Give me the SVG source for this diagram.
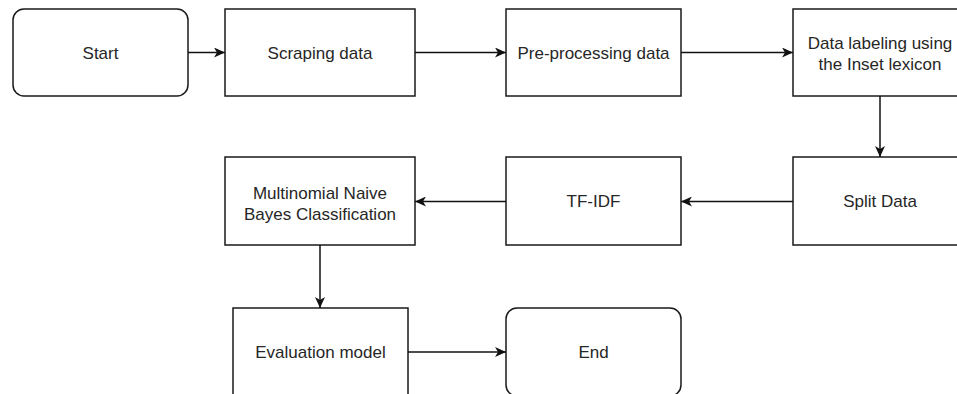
<svg xmlns="http://www.w3.org/2000/svg" width="957" height="394" viewBox="0 0 957 394">
  <defs>
    <marker id="arrow" markerUnits="userSpaceOnUse" markerWidth="12" markerHeight="10" refX="11" refY="5" orient="auto">
      <path d="M0,0 L11,5 L0,10 L3,5 Z" fill="#111"/>
    </marker>
    <style>
      .box { fill: #fff; stroke: #1a1a1a; stroke-width: 1.5; }
      .lbl { font-family: "Liberation Sans", Arial, sans-serif; font-size: 17px; fill: #262626; text-anchor: middle; }
      .edge { fill: none; stroke: #111; stroke-width: 1.5; marker-end: url(#arrow); }
    </style>
  </defs>
  <rect x="0" y="0" width="957" height="394" fill="#fff"/>

  <g id="start">
    <rect class="box" x="13" y="9" width="175" height="87" rx="11" ry="11"/>
    <text class="lbl" x="100.5" y="58.5">Start</text>
  </g>
  <g id="scraping">
    <rect class="box" x="225" y="9" width="190" height="87"/>
    <text class="lbl" x="320" y="58.5">Scraping data</text>
  </g>
  <g id="preprocessing">
    <rect class="box" x="506" y="9" width="175" height="87"/>
    <text class="lbl" x="593.5" y="58.5">Pre-processing data</text>
  </g>
  <g id="labeling">
    <rect class="box" x="793" y="9" width="175" height="87"/>
    <text class="lbl" x="880" y="49">Data labeling using</text>
    <text class="lbl" x="880" y="70">the Inset lexicon</text>
  </g>
  <g id="split">
    <rect class="box" x="793" y="157" width="175" height="88"/>
    <text class="lbl" x="880" y="207">Split Data</text>
  </g>
  <g id="tfidf">
    <rect class="box" x="506" y="157" width="175" height="88"/>
    <text class="lbl" x="593.5" y="207">TF-IDF</text>
  </g>
  <g id="mnb">
    <rect class="box" x="225" y="157" width="190" height="88"/>
    <text class="lbl" x="320" y="199">Multinomial Naive</text>
    <text class="lbl" x="320" y="220">Bayes Classification</text>
  </g>
  <g id="evaluation">
    <rect class="box" x="233" y="308" width="175" height="88"/>
    <text class="lbl" x="320.5" y="358">Evaluation model</text>
  </g>
  <g id="end">
    <rect class="box" x="506" y="308" width="175" height="88" rx="11" ry="11"/>
    <text class="lbl" x="593.5" y="358">End</text>
  </g>

  <g id="connectors">
    <line class="edge" x1="188" y1="52.5" x2="225" y2="52.5"/>
    <line class="edge" x1="415" y1="52.5" x2="506" y2="52.5"/>
    <line class="edge" x1="681" y1="52.5" x2="793" y2="52.5"/>
    <line class="edge" x1="880" y1="96" x2="880" y2="157"/>
    <line class="edge" x1="793" y1="201.5" x2="681" y2="201.5"/>
    <line class="edge" x1="506" y1="201.5" x2="415" y2="201.5"/>
    <line class="edge" x1="320" y1="245" x2="320" y2="308"/>
    <line class="edge" x1="408" y1="352" x2="506" y2="352"/>
  </g>
</svg>
